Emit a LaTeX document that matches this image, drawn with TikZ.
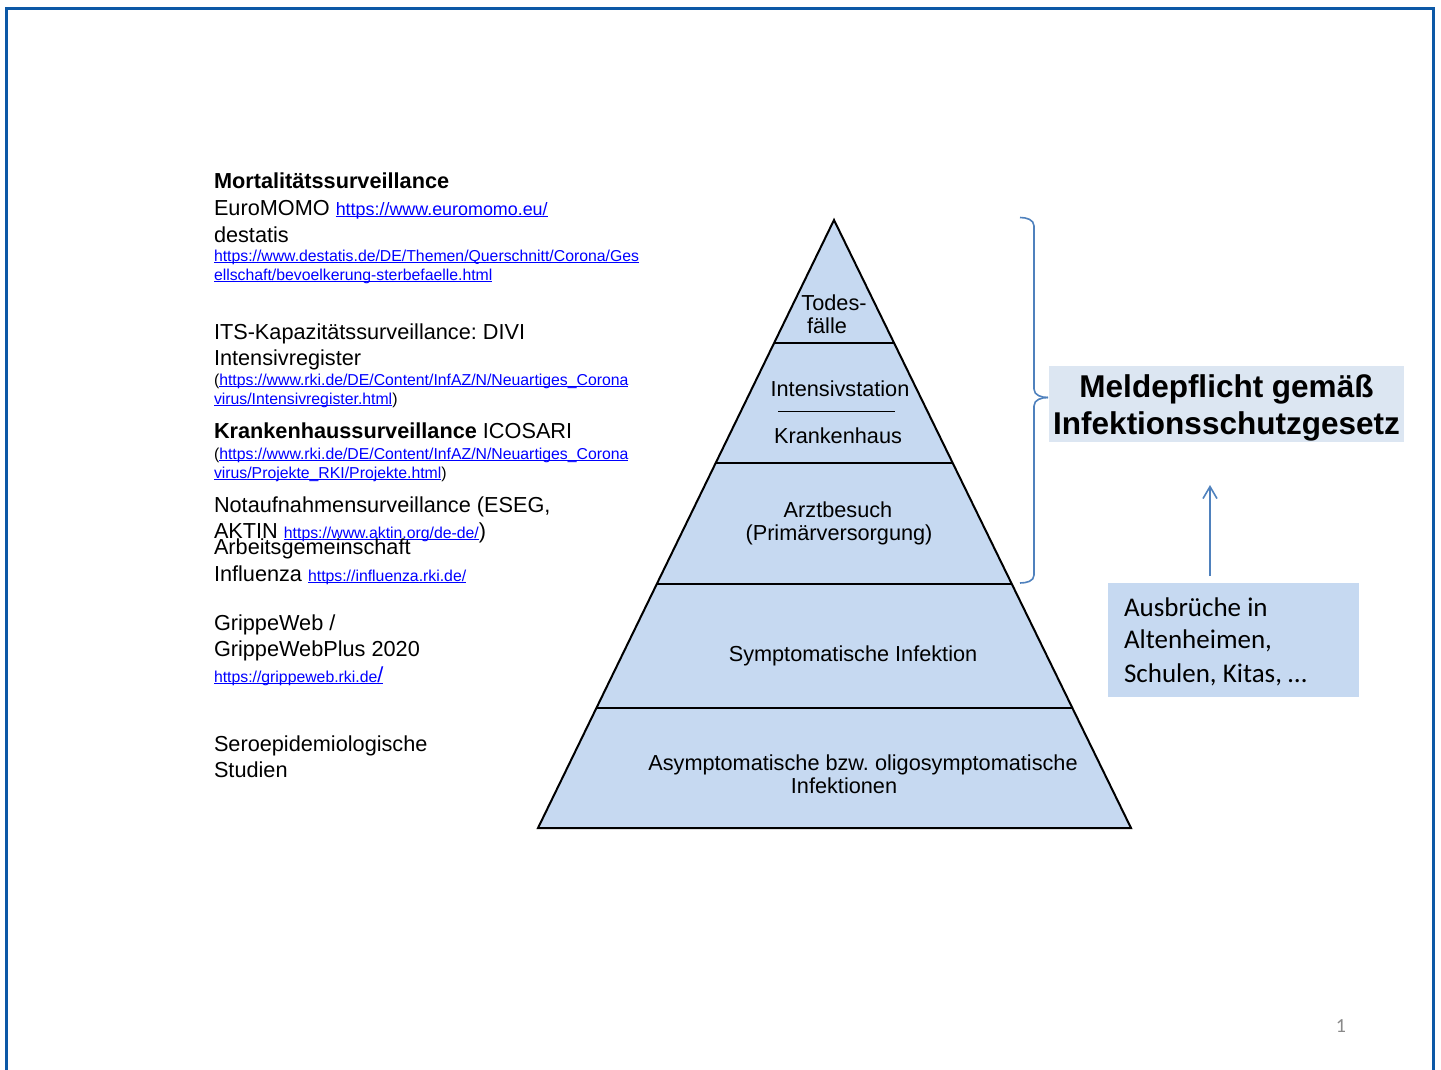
\documentclass[tikz,border=0pt]{standalone}
\usepackage{fontspec}
\setmainfont{Liberation Sans}
\newfontfamily\calibri{Carlito}
\usetikzlibrary{arrows.meta,calc}
\frenchspacing
\definecolor{frameblue}{RGB}{12,88,166}
\definecolor{accblue}{RGB}{79,129,189}
\definecolor{pyrfill}{RGB}{198,217,241}
\definecolor{meldfill}{RGB}{220,230,242}
\definecolor{lnkblue}{RGB}{0,0,255}
\definecolor{pgray}{RGB}{137,137,137}
\newsavebox\lnkbox
\newcommand\lnk[1]{{\color{lnkblue}\sbox\lnkbox{#1}\rlap{\rule[-2.2pt]{\wd\lnkbox}{1pt}}\usebox\lnkbox}}
\newcommand\fnorm{\fontsize{21.7}{26}\selectfont}
\newcommand\fsml{\fontsize{15.8}{19}\selectfont}
\newcommand\fmid{\fontsize{17.9}{21}\selectfont}
\newcommand\fmeld{\fontsize{31.5}{38}\selectfont\bfseries}
\newcommand\fcal{\calibri\fontsize{27}{33}\selectfont}
\tikzset{
  txt/.style={anchor=base west, inner sep=0pt, outer sep=0pt, font=\fnorm},
  ptxt/.style={anchor=base, inner sep=0pt, outer sep=0pt, font=\fnorm},
  layerline/.style={line width=2pt},
  bracestyle/.style={accblue, line width=1.6pt},
}
\begin{document}
\begin{tikzpicture}[x=1pt,y=-1pt]
\useasboundingbox (0,0) rectangle (1441,1070);
% frame
\draw[frameblue, line width=3pt, line join=miter] (6.5,1075) -- (6.5,8.5) -- (1433.5,8.5) -- (1433.5,1075);

% left column
\node[txt] (l1) at (214,189) {\bfseries Mortalitätssurveillance};
\node[txt] (l2) at (214,215) {EuroMOMO {\fmid\lnk{https://www.euromomo.eu/}}};
\node[txt] (l3) at (214,242) {destatis};
\node[txt, font=\fsml] (l4) at (214,261) {\lnk{https://www.destatis.de/DE/Themen/Querschnitt/Corona/Ges}};
\node[txt, font=\fsml] (l5) at (214,280) {\lnk{ellschaft/bevoelkerung-sterbefaelle.html}};
\node[txt] (l6) at (214,339) {ITS-Kapazitätssurveillance: DIVI};
\node[txt] (l7) at (214,365) {Intensivregister};
\node[txt, font=\fsml] (l8) at (214,385) {(\lnk{https://www.rki.de/DE/Content/InfAZ/N/Neuartiges\_Corona}};
\node[txt, font=\fsml] (l9) at (214,404) {\lnk{virus/Intensivregister.html})};
\node[txt] (l10) at (214,438) {\textbf{Krankenhaussurveillance} ICOSARI};
\node[txt, font=\fsml] (l11) at (214,459) {(\lnk{https://www.rki.de/DE/Content/InfAZ/N/Neuartiges\_Corona}};
\node[txt, font=\fsml] (l12) at (214,478) {\lnk{virus/Projekte\_RKI/Projekte.html})};
\node[txt] (l13) at (214,512) {Notaufnahmensurveillance (ESEG,};
\node[txt] (l14) at (214,538) {AKTIN {\fsml\lnk{https://www.aktin.org/de-de/}})};
\node[txt] (l15) at (214,554) {Arbeitsgemeinschaft};
\node[txt] (l16) at (214,581) {Influenza {\fsml\lnk{https://influenza.rki.de/}}};
\node[txt] (l17) at (214,630) {GrippeWeb /};
\node[txt] (l18) at (214,656) {GrippeWebPlus 2020};
\node[txt] (l19) at (214,682) {{\fsml\lnk{https://grippeweb.rki.de}}\lnk{/}};
\node[txt] (l20) at (214,751) {Seroepidemiologische};
\node[txt] (l21) at (214,777) {Studien};

% pyramid
\coordinate (apex) at (834,220);
\coordinate (bl) at (538,828);
\coordinate (br) at (1131,828);
\fill[pyrfill] (apex) -- (bl) -- (br) -- cycle;
\foreach \t in {0.2023,0.3997,0.5987,0.8026}
  \draw[layerline] ($(apex)!\t!(bl)$) -- ($(apex)!\t!(br)$);
\coordinate (sepA) at (778,411);
\coordinate (sepB) at (895,411);
\draw[line width=1pt] (sepA) -- (sepB);
\node[ptxt] (p1) at (834,310) {Todes-};
\node[ptxt] (p2) at (827,333) {fälle};
\node[ptxt] (p3) at (840,396) {Intensivstation};
\node[ptxt] (p4) at (838,443) {Krankenhaus};
\node[ptxt] (p5) at (838,517) {Arztbesuch};
\node[ptxt] (p6) at (839,540) {(Primärversorgung)};
\node[ptxt] (p7) at (853,661) {Symptomatische Infektion};
\node[ptxt] (p8) at (863,770) {Asymptomatische bzw. oligosymptomatische};
\node[ptxt] (p9) at (844,793) {Infektionen};
\draw[line width=2pt, line join=miter] (apex) -- (bl) -- (br) -- cycle;

% brace
\coordinate (bt) at (1020,217.5);
\coordinate (bm) at (1048,397.5);
\coordinate (bb) at (1020,583);
\draw[bracestyle] (bt) to[out=0,in=90] (1034,226) -- (1034,389) to[out=-90,in=180] (bm);
\draw[bracestyle] (bm) to[out=180,in=90] (1034,406) -- (1034,575) to[out=-90,in=0] (bb);

% Meldepflicht box
\node[fill=meldfill, minimum width=355pt, minimum height=76pt, inner sep=0pt, outer sep=0pt, anchor=north west] (meldbox) at (1049,366) {};
\node[anchor=base, inner sep=0pt, font=\fmeld] (m1) at (1226.5,397) {Meldepflicht gemäß};
\node[anchor=base, inner sep=0pt, font=\fmeld] (m2) at (1226.5,434) {Infektionsschutzgesetz};

% Ausbrueche box
\node[fill=pyrfill, minimum width=251pt, minimum height=114pt, inner sep=0pt, outer sep=0pt, anchor=north west] (ausbox) at (1108,583) {};
\node[txt, font=\fcal] (a1) at (1124,616) {Ausbrüche in};
\node[txt, font=\fcal] (a2) at (1124,648) {Altenheimen,};
\node[txt, font=\fcal] (a3) at (1124,682) {Schulen, Kitas, …};

% arrow
\coordinate (arrS) at (1210,576);
\coordinate (arrE) at (1210,485);
\draw[accblue, line width=1.6pt, -{Straight Barb[length=12pt,width=14pt]}] (arrS) -- (arrE);

% page number
\node[anchor=base, inner sep=0pt, font=\calibri\fontsize{20}{24}\selectfont, text=pgray] (pg) at (1341,1032) {1};
\end{tikzpicture}
\end{document}
